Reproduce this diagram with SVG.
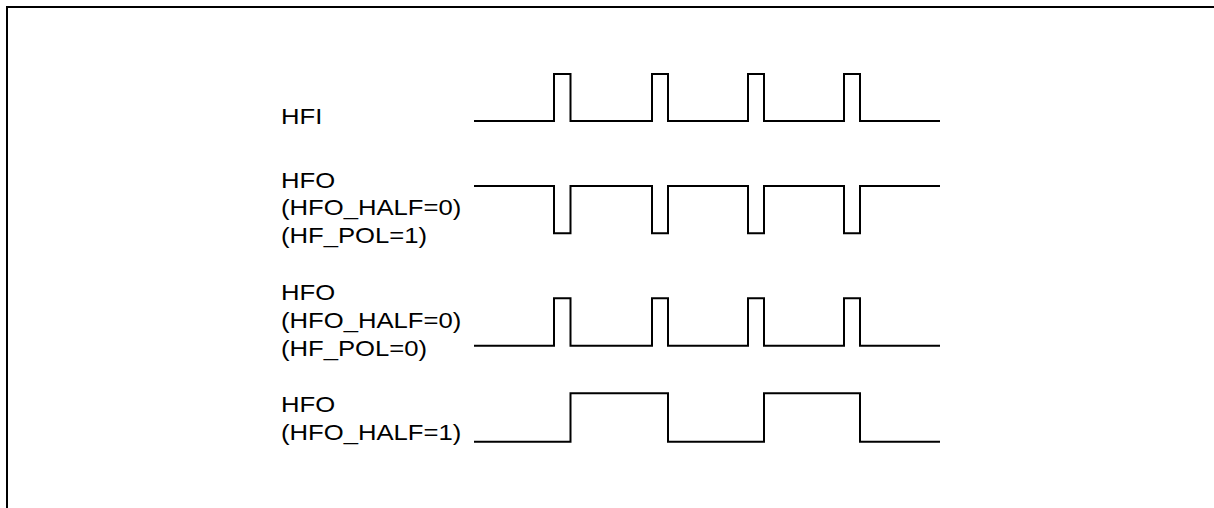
<svg xmlns="http://www.w3.org/2000/svg" width="1214" height="508" viewBox="0 0 1214 508">
  <style>
    .frame { fill: none; stroke: #000; stroke-width: 2; }
    .wave { fill: none; stroke: #000; stroke-width: 2; stroke-linejoin: miter; }
    .lbl { font-family: "Liberation Sans", Arial, sans-serif; font-size: 22.5px; fill: #000; }
  </style>
  <rect width="1214" height="508" fill="#fff"/>
  <path class="frame" d="M7,508 V7 H1214"/>

  <g id="sig-hfi">
    <text class="lbl" transform="translate(281,124) scale(1.14,1)">HFI</text>
    <path class="wave" d="M474,121 H554 V74 H570.5 V121 H652 V74 H668 V121 H748 V74 H764 V121 H844 V74 H860 V121 H940"/>
  </g>

  <g id="sig-hfo-pol1">
    <text class="lbl" transform="translate(281,187.7) scale(1.14,1)">HFO</text>
    <text class="lbl" transform="translate(281,215) scale(1.14,1)">(HFO_HALF=0)</text>
    <text class="lbl" transform="translate(281,242.5) scale(1.14,1)">(HF_POL=1)</text>
    <path class="wave" d="M474,186 H554 V233.3 H570.5 V186 H652 V233.3 H668 V186 H748 V233.3 H764 V186 H844 V233.3 H860 V186 H940"/>
  </g>

  <g id="sig-hfo-pol0">
    <text class="lbl" transform="translate(281,300) scale(1.14,1)">HFO</text>
    <text class="lbl" transform="translate(281,328.2) scale(1.14,1)">(HFO_HALF=0)</text>
    <text class="lbl" transform="translate(281,355.7) scale(1.14,1)">(HF_POL=0)</text>
    <path class="wave" d="M474,345.7 H554 V298.3 H570.5 V345.7 H652 V298.3 H668 V345.7 H748 V298.3 H764 V345.7 H844 V298.3 H860 V345.7 H940"/>
  </g>

  <g id="sig-hfo-half1">
    <text class="lbl" transform="translate(281,412) scale(1.14,1)">HFO</text>
    <text class="lbl" transform="translate(281,439.5) scale(1.14,1)">(HFO_HALF=1)</text>
    <path class="wave" d="M474,441.7 H570.5 V393.3 H668 V441.7 H764 V393.3 H860 V441.7 H940"/>
  </g>

  <g id="connectors"/>
</svg>
